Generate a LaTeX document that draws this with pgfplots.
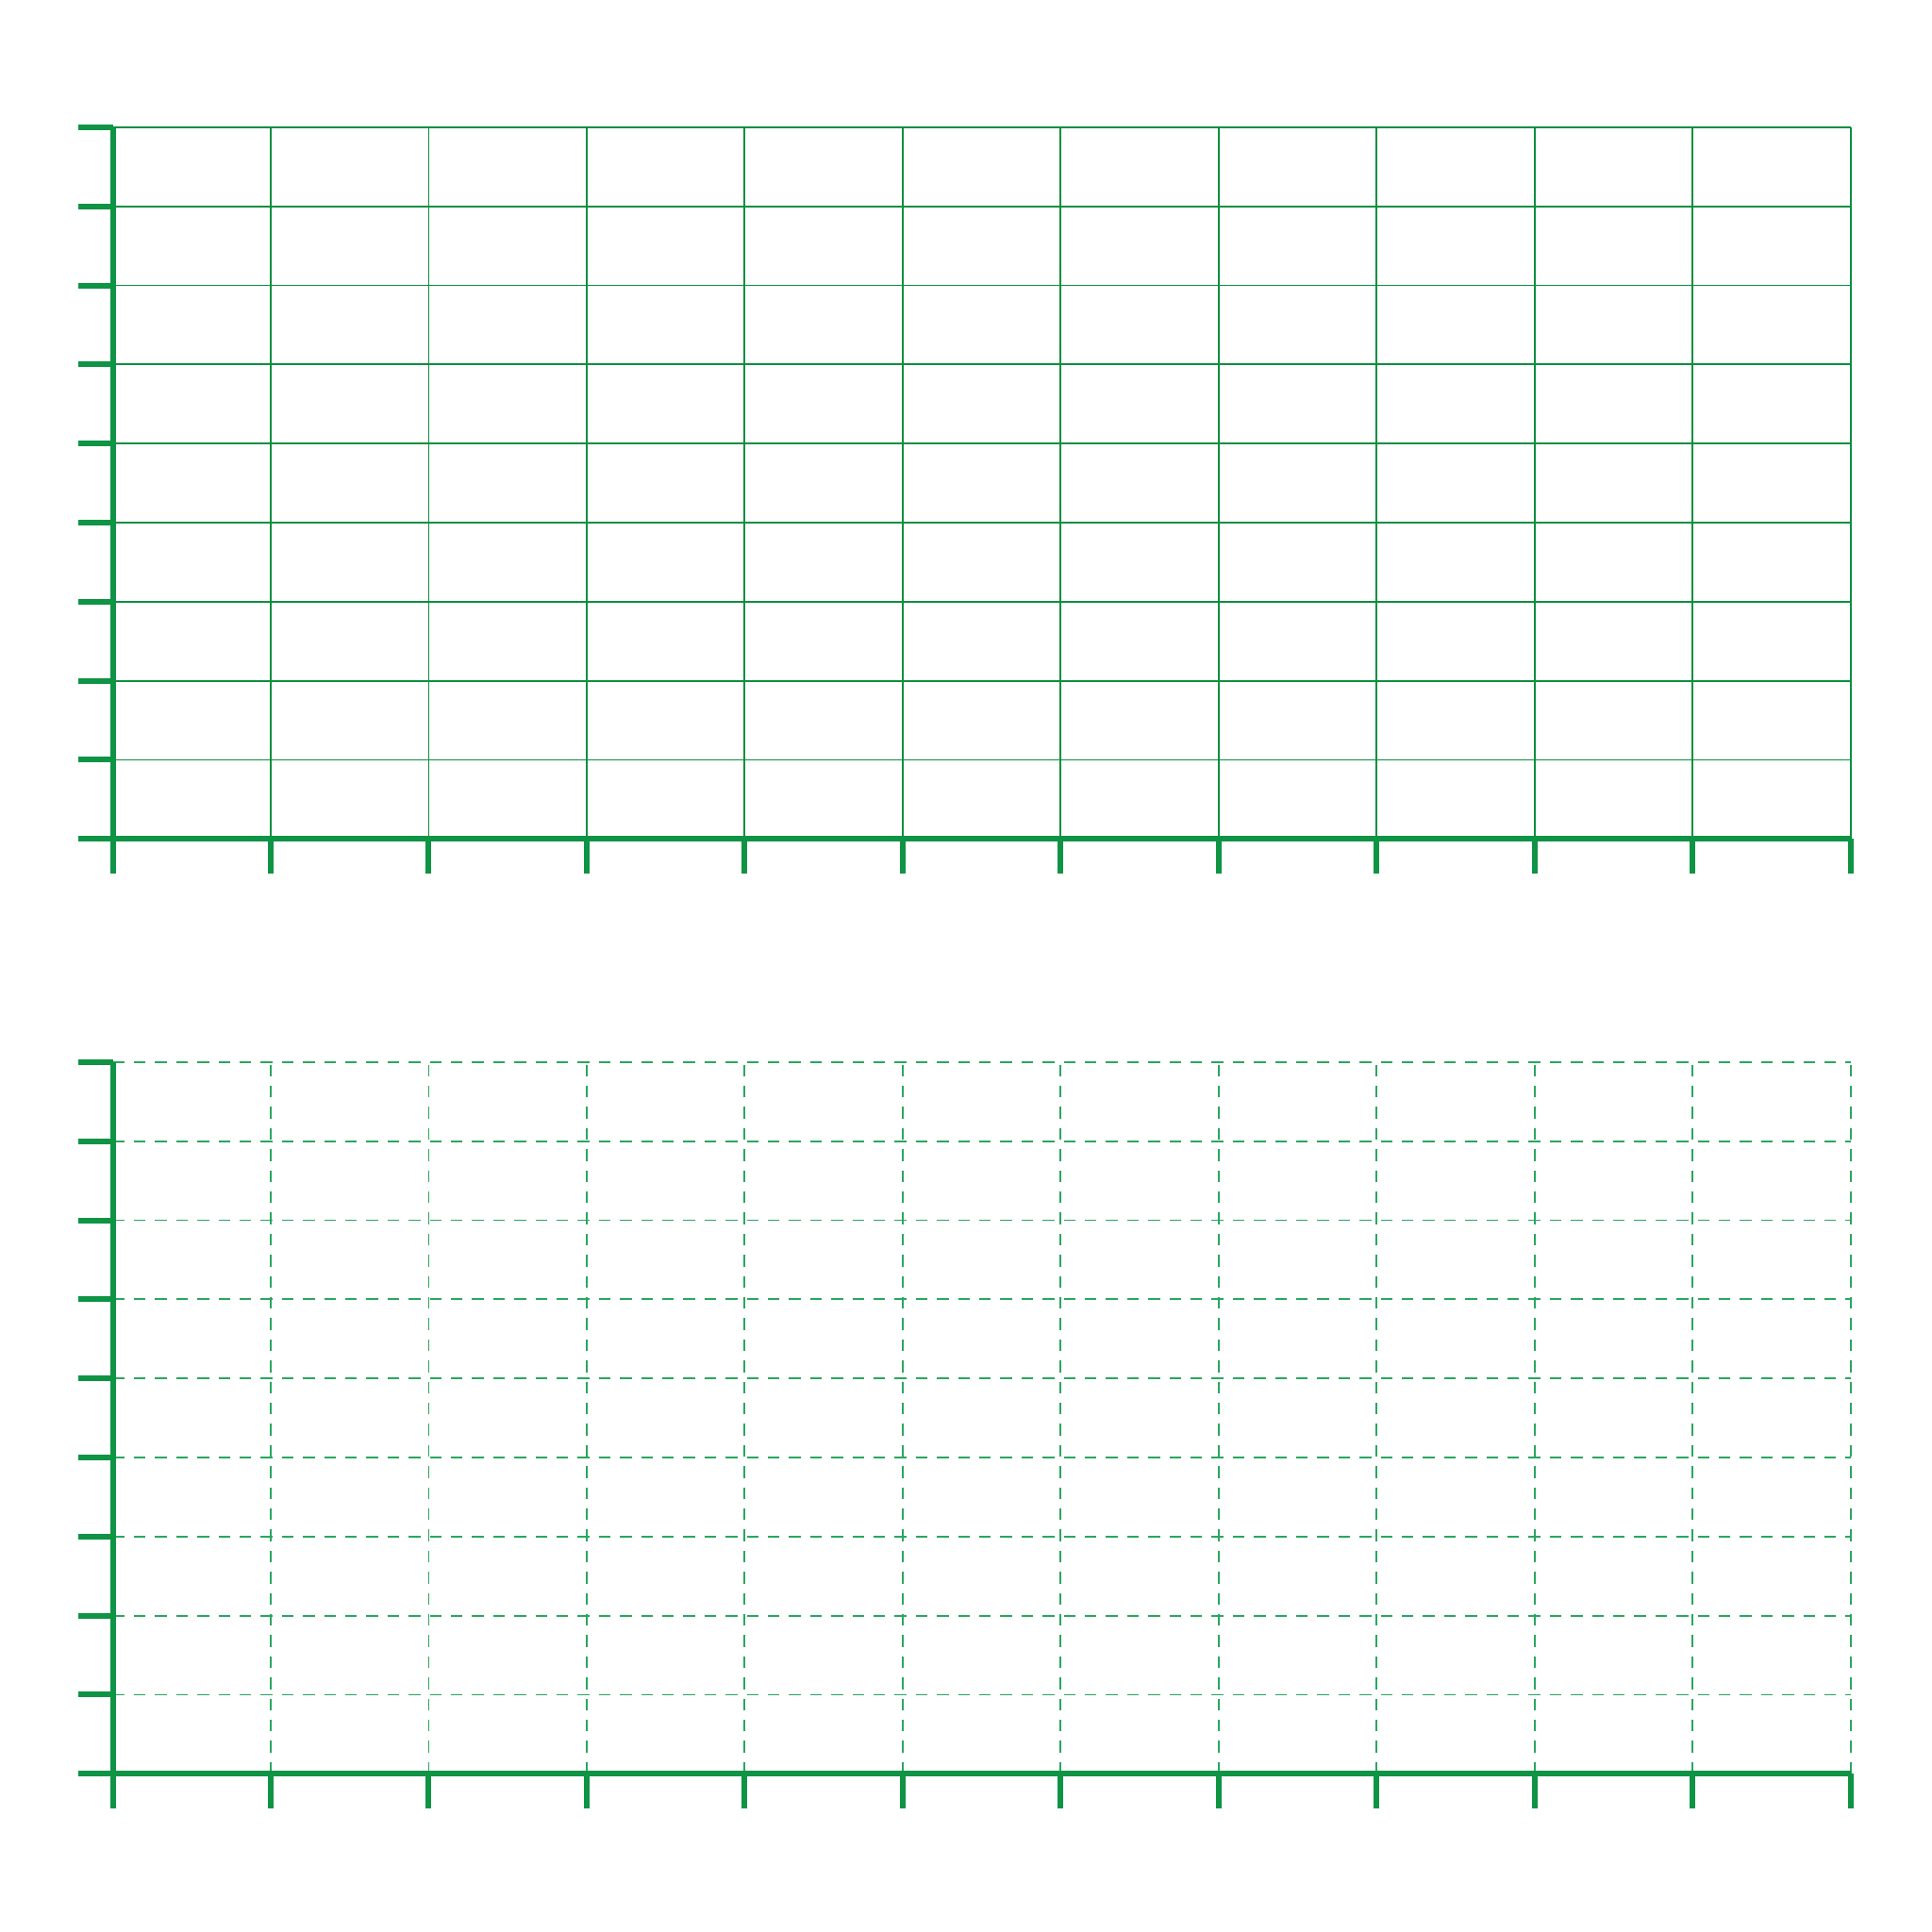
\documentclass[border=0pt]{standalone}
\usepackage{pgfplots}
\pgfplotsset{compat=1.18}
\definecolor{axgreen}{HTML}{0E9444}
\definecolor{gridgreen}{HTML}{0C8F3E}
\definecolor{dashgreen}{HTML}{2AA660}

\pgfplotsset{
  emptygrid/.style={
    scale only axis,
    width=460.55pt, height=188.6pt,
    xmin=0, xmax=11, ymin=0, ymax=9,
    xtick={0,...,11}, ytick={0,...,9},
    xticklabels={}, yticklabels={},
    axis x line=bottom, axis y line=left,
    axis line style={-, line width=1.5pt, color=axgreen},
    tick align=outside,
    major tick length=9.2pt,
    tick style={line width=1.5pt, color=axgreen},
    grid=major,
  },
}

\begin{document}
\begin{tikzpicture}
\path[use as bounding box] (0pt,0pt) rectangle (512pt,512pt);

% top panel: solid grid
\begin{axis}[emptygrid, at={(29.875pt,289.675pt)}, anchor=origin,
    major grid style={line width=0.45pt, color=gridgreen}]
\end{axis}

% bottom panel: dashed grid
\begin{axis}[emptygrid, at={(29.875pt,41.925pt)}, anchor=origin,
    major grid style={line width=0.45pt, color=dashgreen, dash pattern=on 3.1pt off 2.5pt}]
\end{axis}
\end{tikzpicture}
\end{document}
